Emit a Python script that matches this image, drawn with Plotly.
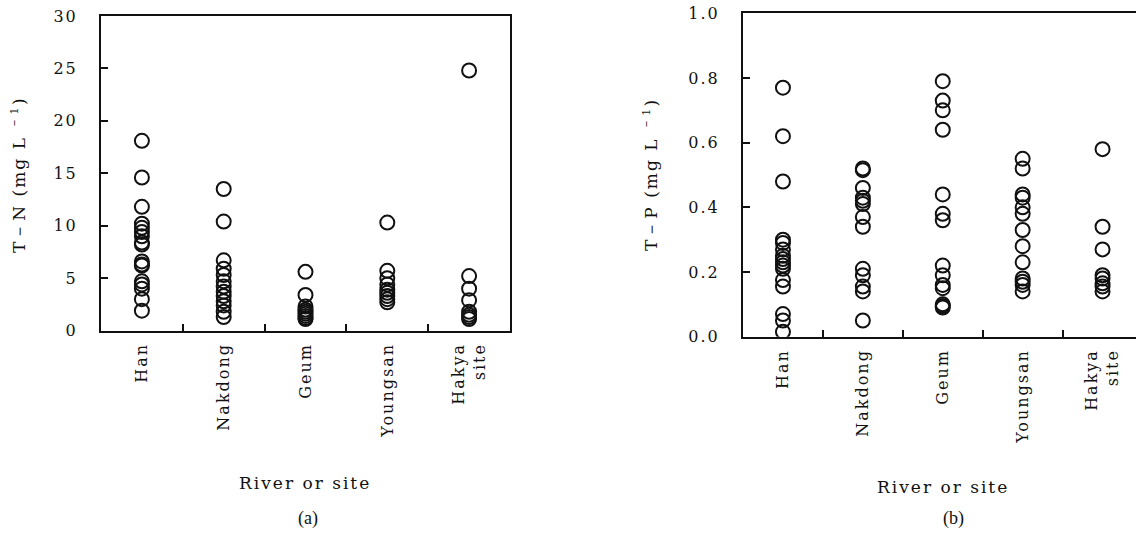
import plotly.graph_objects as go

categories = ["Han", "Nakdong", "Geum", "Youngsan", "Hakya<br>site"]

# Panel (a): T-N (mg/L)
tn_han = [18.1, 14.6, 11.8, 10.2, 9.8, 9.4, 9.0, 8.4, 8.2, 6.6, 6.3, 6.2, 4.7, 4.4, 4.0, 3.0, 1.9]
tn_nakdong = [13.5, 10.4, 6.7, 5.9, 5.3, 4.7, 4.2, 3.7, 3.3, 2.8, 2.4, 1.8, 1.3]
tn_geum = [5.6, 3.4, 2.3, 2.0, 1.8, 1.6, 1.4, 1.2, 1.1]
tn_youngsan = [10.3, 5.7, 5.0, 4.4, 3.9, 3.6, 3.3, 3.0, 2.7]
tn_hakya = [24.8, 5.2, 4.0, 2.9, 1.8, 1.5, 1.3, 1.1]

# Panel (b): T-P (mg/L)
tp_han = [0.77, 0.62, 0.48, 0.30, 0.29, 0.27, 0.25, 0.24, 0.23, 0.22, 0.21, 0.175, 0.155, 0.07, 0.05, 0.015]
tp_nakdong = [0.52, 0.515, 0.46, 0.43, 0.42, 0.41, 0.37, 0.34, 0.21, 0.19, 0.155, 0.14, 0.05]
tp_geum = [0.79, 0.73, 0.70, 0.64, 0.44, 0.38, 0.36, 0.22, 0.19, 0.16, 0.15, 0.10, 0.095, 0.09]
tp_youngsan = [0.55, 0.52, 0.44, 0.43, 0.40, 0.38, 0.33, 0.28, 0.23, 0.18, 0.17, 0.16, 0.14]
tp_hakya = [0.58, 0.34, 0.27, 0.19, 0.18, 0.165, 0.155, 0.14]

yticks_a = [0, 5, 10, 15, 20, 25, 30]
yticks_b = [0.0, 0.2, 0.4, 0.6, 0.8, 1.0]
yticklabels_b = ["0.0", "0.2", "0.4", "0.6", "0.8", "1.0"]

tn_groups = [tn_han, tn_nakdong, tn_geum, tn_youngsan, tn_hakya]
tp_groups = [tp_han, tp_nakdong, tp_geum, tp_youngsan, tp_hakya]

W, H = 1136, 534
FONT = "DejaVu Serif"
INK = "#111111"

marker = dict(symbol="circle-open", size=14, color=INK, line=dict(width=2, color=INK))

fig = go.Figure()
for cat, vals in zip(categories, tn_groups):
    fig.add_trace(go.Scatter(x=[cat] * len(vals), y=vals, mode="markers",
                             marker=marker, xaxis="x", yaxis="y", showlegend=False))
for cat, vals in zip(categories, tp_groups):
    fig.add_trace(go.Scatter(x=[cat] * len(vals), y=vals, mode="markers",
                             marker=marker, xaxis="x2", yaxis="y2", showlegend=False))

def px_x(p):
    return p / W

def px_y(p):
    return 1 - p / H

common_x = dict(type="category", categoryorder="array", categoryarray=categories,
                showline=True, linewidth=2, linecolor=INK, mirror=True,
                ticks="inside", tickson="boundaries", ticklen=7, tickwidth=2, tickcolor=INK,
                tickangle=-90, showgrid=False, zeroline=False, automargin=False,
                tickfont=dict(family=FONT, size=16, color=INK), ticklabelstandoff=4)
common_y = dict(showline=True, linewidth=2, linecolor=INK,
                ticks="inside", ticklen=7, tickwidth=2, tickcolor=INK,
                showgrid=False, zeroline=False, automargin=False,
                tickfont=dict(family=FONT, size=16, color=INK), ticklabelstandoff=18)

# Panel b extends slightly past the right edge of the image
b_left, b_right_full = 743, 1142.5
cat_w_b = (b_right_full - b_left) / 5
b_range_hi = 4.5 - (b_right_full - W) / cat_w_b

fig.update_layout(
    width=W, height=H, margin=dict(l=0, r=0, t=0, b=0, autoexpand=False),
    paper_bgcolor="white", plot_bgcolor="white", hovermode=False,
    xaxis=dict(common_x, domain=[px_x(101), px_x(510)], range=[-0.5, 4.5], anchor="y"),
    yaxis=dict(common_y, domain=[px_y(330.6), px_y(16)], range=[0, 30],
               tickvals=yticks_a, mirror=True, anchor="x"),
    xaxis2=dict(common_x, domain=[px_x(b_left), 1.0], range=[-0.5, b_range_hi], anchor="y2"),
    yaxis2=dict(common_y, domain=[px_y(336.7), px_y(13.3)], range=[0, 1],
                tickvals=yticks_b, ticktext=yticklabels_b, mirror=False, anchor="x2"),
)

ann_font = dict(family=FONT, size=17, color=INK)
annotations = [
    dict(text="T－N (mg L <sup>－1</sup>)", x=px_x(18), y=px_y(175), textangle=-90),
    dict(text="T－P (mg L <sup>－1</sup>)", x=px_x(650), y=px_y(175), textangle=-90),
    dict(text="River or site", x=px_x(305), y=px_y(483)),
    dict(text="River or site", x=px_x(943), y=px_y(487)),
]
for a in annotations:
    fig.add_annotation(xref="paper", yref="paper", showarrow=False, font=ann_font,
                       xanchor="center", yanchor="middle", **a)
for label, xc in [("(a)", 308), ("(b)", 953)]:
    fig.add_annotation(text=label, xref="paper", yref="paper", x=px_x(xc), y=px_y(518),
                       showarrow=False, xanchor="center", yanchor="middle",
                       font=dict(family="Liberation Serif", size=18, color=INK))

# Page without body margin, and wide letter spacing as in the reference typesetting
post = """
document.body.style.margin = '0';
document.body.style.overflow = 'hidden';
var gd = document.getElementsByClassName('plotly-graph-div')[0];
function spaceText() {
  gd.querySelectorAll('.xtick text, .ytick text, .x2tick text, .y2tick text').forEach(function(t){ t.style.letterSpacing = '2px'; });
  gd.querySelectorAll('.annotation-text').forEach(function(t){
    if (t.textContent.indexOf('(a)') !== 0 && t.textContent.indexOf('(b)') !== 0) { t.style.letterSpacing = '2px'; }
  });
}
spaceText();
gd.on('plotly_afterplot', spaceText);
"""

fig.write_html("out.html", post_script=post, config={"displayModeBar": False, "staticPlot": True})
